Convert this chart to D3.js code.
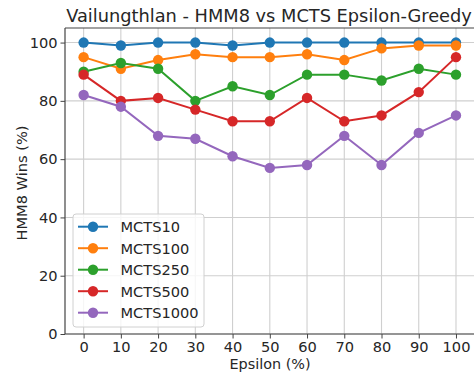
<!DOCTYPE html>
<html><head><meta charset="utf-8">
<script src="https://cdn.jsdelivr.net/npm/d3@7"></script>
<style>body{margin:0;background:#fff}svg{display:block;font-family:"DejaVu Sans",sans-serif}</style>
</head><body><div id="chart"></div>
<script>
const epsilons = [0,10,20,30,40,50,60,70,80,90,100];
const seriesNames = ["MCTS10","MCTS100","MCTS250","MCTS500","MCTS1000"];
const mcts10   = [100,99,100,100,99,100,100,100,100,100,100];
const mcts100  = [95,91,94,96,95,95,96,94,98,99,99];
const mcts250  = [90,93,91,80,85,82,89,89,87,91,89];
const mcts500  = [89,80,81,77,73,73,81,73,75,83,95];
const mcts1000 = [82,78,68,67,61,57,58,68,58,69,75];
const yTicks = [0,20,40,60,80,100];
const colors = ["#1f77b4","#ff7f0e","#2ca02c","#d62728","#9467bd"];
const seriesValues = [mcts10,mcts100,mcts250,mcts500,mcts1000];

const W=474,H=376;
const svg=d3.select("#chart").append("svg").attr("width",W).attr("height",H);
const L=65,R=474.6,T=28,B=334;
const x=d3.scaleLinear().domain([-5,105]).range([L,R]);
const y=d3.scaleLinear().domain([0,105]).range([B,T]);
const FS=14.6;

// grid
const g=svg.append("g");
g.selectAll(".vg").data(epsilons).join("line").attr("x1",d=>x(d)).attr("x2",d=>x(d)).attr("y1",T).attr("y2",B).attr("stroke","#cfcfcf").attr("stroke-width",1.1);
g.selectAll(".hg").data(yTicks).join("line").attr("x1",L).attr("x2",R).attr("y1",d=>y(d)).attr("y2",d=>y(d)).attr("stroke","#cfcfcf").attr("stroke-width",1.1);

// axes
const xa=svg.append("g").attr("transform",`translate(0,${B})`).call(d3.axisBottom(x).tickValues(epsilons).tickSize(4.5).tickPadding(3));
const ya=svg.append("g").attr("transform",`translate(${L},0)`).call(d3.axisLeft(y).tickValues(yTicks).tickSize(4.5).tickPadding(3));
[xa,ya].forEach(a=>{a.attr("font-size",FS).attr("font-family","DejaVu Sans");a.select(".domain").remove();a.selectAll("text").attr("font-size",FS).attr("fill","#262626");a.selectAll("line").attr("stroke","#444").attr("stroke-width",1);});
// spines
svg.append("line").attr("x1",L).attr("x2",L).attr("y1",T).attr("y2",B).attr("stroke","#444").attr("stroke-width",1.2);
svg.append("line").attr("x1",L).attr("x2",R).attr("y1",B).attr("y2",B).attr("stroke","#444").attr("stroke-width",1.2);
svg.append("line").attr("x1",L).attr("x2",R).attr("y1",T).attr("y2",T).attr("stroke","#444").attr("stroke-width",1.2);

// lines
const line=d3.line().x((d,i)=>x(epsilons[i])).y(d=>y(d));
seriesValues.forEach((vals,k)=>{
  const s=svg.append("g");
  s.append("path").datum(vals).attr("d",line).attr("fill","none").attr("stroke",colors[k]).attr("stroke-width",2);
  s.selectAll("circle").data(vals).join("circle").attr("cx",(d,i)=>x(epsilons[i])).attr("cy",d=>y(d)).attr("r",5.2).attr("fill",colors[k]);
});

// title and labels
svg.append("text").attr("x",269).attr("y",22).attr("text-anchor","middle").attr("font-size",17.8).attr("fill","#262626").text("Vailungthlan - HMM8 vs MCTS Epsilon-Greedy");
svg.append("text").attr("x",270).attr("y",369).attr("text-anchor","middle").attr("font-size",14.4).attr("fill","#262626").text("Epsilon (%)");
svg.append("text").attr("transform","translate(27,183) rotate(-90)").attr("text-anchor","middle").attr("font-size",FS).attr("fill","#262626").text("HMM8 Wins (%)");

// legend
const lg=svg.append("g");
lg.append("rect").attr("x",73).attr("y",214).attr("width",131).attr("height",113).attr("rx",3).attr("fill","#fff").attr("fill-opacity",0.8).attr("stroke","#d0d0d0");
seriesNames.forEach((n,k)=>{
  const yy=226.7+k*21.5;
  lg.append("line").attr("x1",78).attr("x2",108).attr("y1",yy).attr("y2",yy).attr("stroke",colors[k]).attr("stroke-width",2);
  lg.append("circle").attr("cx",93).attr("cy",yy).attr("r",5.2).attr("fill",colors[k]);
  lg.append("text").attr("x",120.5).attr("y",yy+5.3).attr("font-size",FS).attr("fill","#262626").text(n);
});
</script></body></html>
